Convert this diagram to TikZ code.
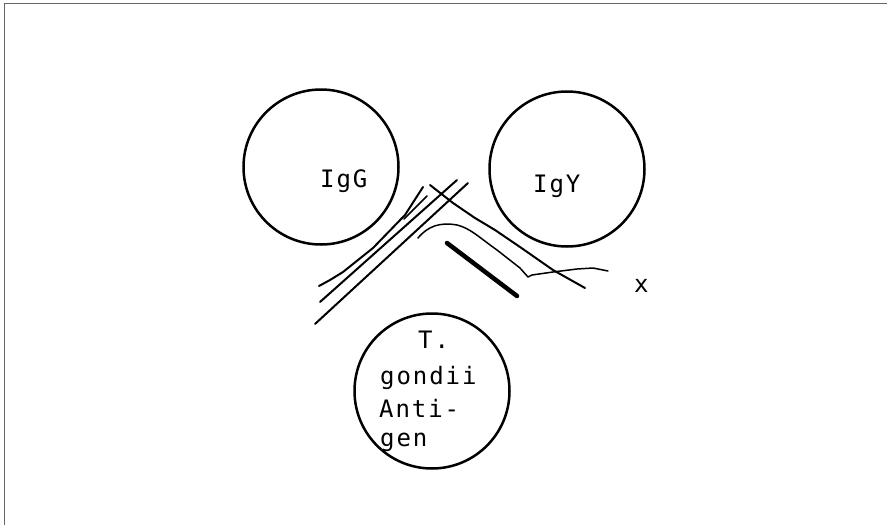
\documentclass[tikz,border=0pt]{standalone}
\usepackage{fontspec}
\newfontfamily\dotfont[LetterSpace=8]{DejaVu Sans Mono}
\begin{document}
\begin{tikzpicture}[x=1pt,y=-1pt,
  cell/.style={draw=black,line width=2.5pt,circle,minimum size=155pt,inner sep=0pt},
  lab/.style={font=\dotfont\fontsize{24}{24}\selectfont,anchor=base west,inner sep=0pt},
  strand/.style={line width=2pt,line cap=round,line join=round},
  thin/.style={line width=1.5pt,line cap=round,line join=round},
  frame/.style={draw=black!60,line width=1.4pt}]
\useasboundingbox (0,0) rectangle (887,525);
% frame (top and left edges)
\coordinate (tl) at (4.5,3.5);
\coordinate (tr) at (887,3.5);
\coordinate (bl) at (4.5,525);
\draw[frame] (tr) -- (tl) -- (bl);
% circles
\node[cell] (igg) at (321,167) {};
\node[cell] (igy) at (567,169) {};
\node[cell] (ag) at (432,391) {};
% labels
\node[lab] (tigg) at (320,187) {IgG};
\node[lab] (tigy) at (533,192) {IgY};
\node[lab] (t1) at (418,348) {T.};
\node[lab] (t2) at (380,384) {gondii};
\node[lab] (t3) at (379,417) {Anti-};
\node[lab] (t4) at (380,446) {gen};
\node[lab] (tx) at (634,292) {x};
% strands
\draw[strand] (423,187) -- (405,215) -- (373,248) -- (343,272) -- (330,280) -- (319,286);
\draw[thin] (427,196) -- (404,219);
\draw[strand] (457,180) -- (320,302);
\draw[strand] (468,183) -- (315,324);
\draw[strand] (430,185) -- (453,203) -- (475,218) -- (495,230) -- (520,247) -- (553,270) -- (585,288);
\draw[thin] (418,238) .. controls (428,226) and (440,222) .. (457,225)
  .. controls (470,228) and (480,238) .. (497,250) -- (520,268) -- (528,277) -- (532,275)
  -- (553,272) -- (577,269) -- (593,268) -- (608,271);
\draw[line width=4.5pt,line cap=round] (447,243) -- (517,296);
\end{tikzpicture}
\end{document}
